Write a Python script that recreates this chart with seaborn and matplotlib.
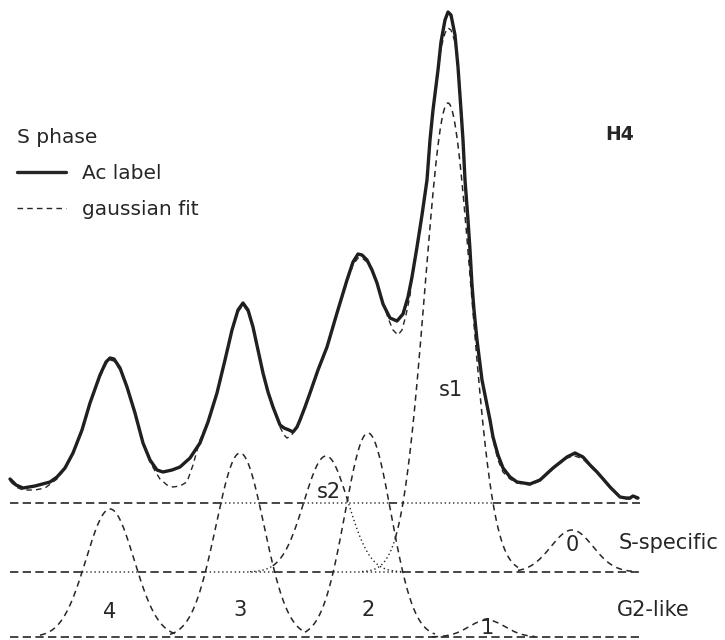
import numpy as np
import matplotlib
matplotlib.use("Agg")
import matplotlib.pyplot as plt
import seaborn as sns

# ---------------- data ----------------
# scan position (x) and signal read as depth from the top of the figure (y)
ac_x = [10, 16, 23, 35, 50, 57, 65, 73, 82, 90, 100, 106, 110, 114, 120, 127, 135, 143, 150, 157,
        163, 172, 180, 190, 200, 208, 217, 225, 232, 238, 243, 248, 253, 258, 263, 268, 273, 280,
        284, 289, 293, 297, 300, 305, 310, 318, 327, 337, 347, 353, 358, 362, 367, 372, 377, 383,
        390, 397, 403, 408, 412, 417, 422, 427, 430, 433, 438, 441, 445, 448, 451, 455, 458, 461,
        463, 465, 468, 470, 472, 474, 477, 482, 487, 490, 493, 498, 503, 510, 517, 530, 540, 553,
        567, 575, 583, 590, 597, 604, 610, 620, 626, 630, 633, 638]
ac_y = [479, 485, 488, 486, 482, 477, 468, 453, 430, 403, 375, 362, 358, 359, 368, 387, 413, 443, 460, 470,
        472, 470, 467, 458, 443, 422, 393, 360, 330, 310, 303, 310, 327, 350, 373, 392, 407, 425,
        428, 430, 432, 427, 420, 407, 393, 370, 347, 313, 280, 262, 254, 255, 260, 270, 283, 304,
        318, 321, 314, 297, 277, 247, 215, 180, 140, 110, 70, 42, 20, 12, 15, 35, 67, 110,
        140, 180, 220, 250, 285, 310, 340, 380, 405, 420, 437, 455, 468, 477, 482, 484, 480, 468,
        457, 453, 457, 465, 472, 480, 487, 497, 498, 498, 496, 498]

fit_x = [10, 16, 23, 35, 45, 57, 65, 73, 82, 90, 100, 106, 110, 114, 120, 127, 135, 143, 150, 155,
         160, 167, 173, 180, 187, 193, 200, 208, 217, 225, 232, 238, 243, 248, 253, 258, 263, 268,
         273, 280, 284, 287, 291, 296, 300, 305, 310, 318, 327, 337, 347, 353, 358, 362, 367, 372,
         377, 383, 388, 393, 398, 402, 406, 410, 412, 417, 422, 427, 430, 433, 438, 441, 445, 448,
         451, 455, 458, 461, 463, 465, 468, 470, 472, 474, 477, 482, 487, 490, 493, 498, 503, 510,
         517, 530, 540, 553, 567, 575, 583, 590, 597, 604, 610, 620, 626, 630, 633, 638]
fit_y = [481, 487, 490, 490, 488, 479, 469, 454, 431, 404, 377, 364, 360, 361, 370, 388, 414, 444, 462, 471,
         479, 485, 487, 486, 482, 465, 440, 421, 393, 361, 331, 312, 305, 312, 328, 351, 374, 393,
         408, 427, 435, 438, 436, 428, 420, 408, 394, 371, 348, 314, 282, 265, 258, 258, 262, 271,
         284, 302, 318, 330, 335, 330, 315, 296, 278, 248, 216, 181, 141, 111, 72, 48, 33, 28,
         30, 42, 67, 110, 140, 180, 220, 250, 285, 310, 340, 380, 407, 422, 440, 460, 472, 479,
         483, 485, 481, 469, 458, 456, 459, 466, 473, 481, 488, 497, 499, 499, 498, 499]

# gaussian components: G2-like (drawn on the lowest baseline)
g2_labels = ["4", "3", "2", "1"]
g2_center = [110, 240, 368, 487]
g2_amp = [128, 184, 204, 17]
g2_sigma = [24, 24, 23, 18]
g2_lo = [40, 170, 305, 432]
g2_hi = [175, 305, 435, 535]

# gaussian components: S-specific (drawn on the middle baseline)
s_labels = ["s2", "s1", "0"]
s_center = [326, 448, 572]
s_amp = [116, 469, 42]
s_sigma = [22, 23, 21]
s_lo = [250, 362, 518]
s_hi = [402, 518, 632]

# ---------------- layout / style ----------------
BASE_TOP, BASE_S, BASE_G2 = 503, 572, 637
X0, X1 = 10, 640
INK = "#262626"
DASH_BASE = (0, (5, 2.6))
DASH_COMP = (0, (4, 3))
DASH_FIT = (0, (4, 3))
DOT = (0, (1, 2))
FS = 15

sns.set_theme(style="white")
plt.rcParams["font.family"] = ["DejaVu Sans"]

fig = plt.figure(figsize=(7.25, 6.4), dpi=100)
ax = fig.add_axes([0, 0, 1, 1])

grid = np.arange(0, 725.25, 0.25)


def gauss(c, a, s):
    return a * np.exp(-0.5 * ((grid - c) / s) ** 2)


g2_curves, g2_masks = [], []
for c, a, s, lo, hi in zip(g2_center, g2_amp, g2_sigma, g2_lo, g2_hi):
    g2_curves.append(BASE_G2 - gauss(c, a, s))
    g2_masks.append((grid >= lo) & (grid <= hi))
s_curves, s_masks = [], []
for c, a, s, lo, hi in zip(s_center, s_amp, s_sigma, s_lo, s_hi):
    s_curves.append(BASE_S - gauss(c, a, s))
    s_masks.append((grid >= lo) & (grid <= hi))

g2_top = np.min([np.where(m, cv, np.inf) for cv, m in zip(g2_curves, g2_masks)], axis=0)
s_top = np.min([np.where(m, cv, np.inf) for cv, m in zip(s_curves, s_masks)], axis=0)
all_top = np.minimum(g2_top, s_top)


def split_plot(xv, yv, dotted_mask, dash_style, lw_dash, lw_dot):
    dashed = np.where(~dotted_mask, yv, np.nan)
    dotted = np.where(dotted_mask, yv, np.nan)
    dm = dotted_mask.copy()
    edge = np.zeros_like(dm)
    edge[1:] |= dm[1:] != dm[:-1]
    edge[:-1] |= dm[1:] != dm[:-1]
    dashed = np.where(edge, yv, dashed)
    dotted = np.where(edge, yv, dotted)
    ax.plot(xv, dashed, color=INK, lw=lw_dash, linestyle=dash_style, solid_capstyle="butt")
    ax.plot(xv, dotted, color=INK, lw=lw_dot, linestyle=DOT)


# baselines
inb = (grid >= X0) & (grid <= X1)
gx = grid[inb]
split_plot(gx, np.full(gx.shape, BASE_TOP, dtype=float), (all_top < BASE_TOP - 0.5)[inb], DASH_BASE, 1.2, 1.0)
split_plot(gx, np.full(gx.shape, BASE_S, dtype=float), (g2_top < BASE_S - 0.5)[inb], DASH_BASE, 1.2, 1.0)
sns.lineplot(x=gx, y=np.full(gx.shape, BASE_G2, dtype=float), ax=ax, color=INK, lw=1.2,
             linestyle=DASH_BASE, estimator=None, sort=False)

# G2-like components (dashed)
for cv, m in zip(g2_curves, g2_masks):
    sns.lineplot(x=grid[m], y=cv[m], ax=ax, color=INK, lw=1.1, linestyle=DASH_COMP,
                 estimator=None, sort=False)

# S-specific components (dotted where hidden under a G2-like peak)
for cv, m in zip(s_curves, s_masks):
    hidden = g2_top[m] < cv[m] - 0.5
    split_plot(grid[m], cv[m], hidden, DASH_COMP, 1.1, 1.0)

# measured profile and total gaussian fit
sns.lineplot(x=ac_x, y=ac_y, ax=ax, color="#1e1e1e", lw=2.4, estimator=None, sort=False,
             label="Ac label", solid_joinstyle="round", solid_capstyle="round")
sns.lineplot(x=fit_x, y=fit_y, ax=ax, color=INK, lw=1.0, linestyle=DASH_FIT, estimator=None,
             sort=False, label="gaussian fit")

# component labels
lab_pos_g2 = [(110, 612), (240, 610), (368, 610), (487, 628)]
for t, (px, py) in zip(g2_labels, lab_pos_g2):
    ax.text(px, py, t, ha="center", va="center", fontsize=FS, color=INK)
lab_pos_s = [(329, 492), (451, 390), (572, 545)]
for t, (px, py) in zip(s_labels, lab_pos_s):
    ax.text(px, py, t, ha="center", va="center", fontsize=FS, color=INK)

ax.text(619, 543, "S-specific", ha="left", va="center", fontsize=FS, color=INK)
ax.text(617, 610, "G2-like", ha="left", va="center", fontsize=FS, color=INK)
ax.text(620, 134, "H4", ha="center", va="center", fontsize=13.5, color=INK, fontweight="bold")

ax.set_xlim(0, 725)
ax.set_ylim(640, 0)
ax.axis("off")

leg = ax.legend(title="S phase", loc="upper left", bbox_to_anchor=(0.024, 0.8), frameon=False,
                fontsize=14.5, title_fontsize=14.5, handlelength=2.4, handletextpad=0.8,
                labelspacing=0.85, borderaxespad=0, borderpad=0)
leg._legend_box.align = "left"
for h in leg.get_lines():
    h.set_color(INK)
for t in leg.get_texts():
    t.set_color(INK)
leg.get_title().set_color(INK)

fig.savefig("out.png", dpi=100, facecolor="white")
